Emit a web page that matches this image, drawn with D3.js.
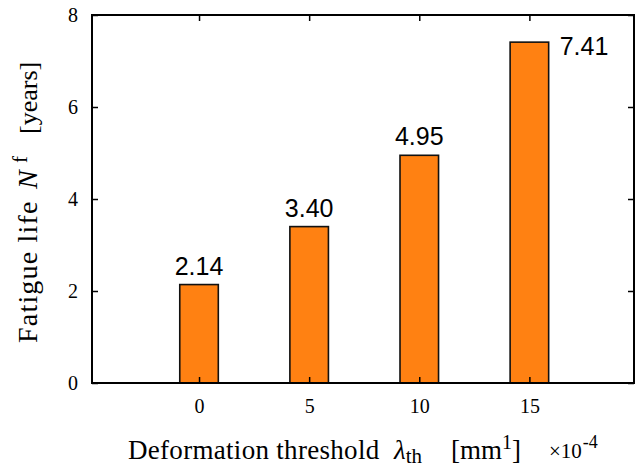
<!DOCTYPE html>
<html>
<head>
<meta charset="utf-8">
<script src="https://cdn.jsdelivr.net/npm/d3@7"></script>
<style>
  html, body { margin: 0; padding: 0; background: #fff; }
  svg { display: block; }
</style>
</head>
<body>
<svg id="chart" width="635" height="468"></svg>
<script>
// Deformation thresholds (x 10^-4 mm^-1) and resulting fatigue life (years)
const thresholds = [0, 5, 10, 15];
const fatigueLife = [2.14, 3.40, 4.95, 7.41];
const valueLabels = ["2.14", "3.40", "4.95", "7.41"];
const xTicks = [0, 5, 10, 15];
const yTicks = [0, 2, 4, 6, 8];

const plot = { left: 92, right: 634, top: 15, bottom: 383 };
const svg = d3.select("#chart");

const x = d3.scaleLinear().domain([-4.86, 19.75]).range([plot.left, plot.right]);
const y = d3.scaleLinear().domain([0, 8]).range([plot.bottom, plot.top]);
const barW = 1.75; // in x units

const serif = "'Liberation Serif', 'Times New Roman', serif";
const sans = "'Liberation Sans', Arial, sans-serif";

// Bars
svg.append("g").selectAll("rect")
  .data(thresholds)
  .join("rect")
  .attr("x", (d) => x(d - barW / 2))
  .attr("width", (d) => x(d + barW / 2) - x(d - barW / 2))
  .attr("y", (d, i) => y(fatigueLife[i]))
  .attr("height", (d, i) => y(0) - y(fatigueLife[i]))
  .attr("fill", "#ff8112")
  .attr("stroke", "#111")
  .attr("stroke-width", 1.6);

// Value labels: above each bar, the tallest one beside it to stay clear of the frame
const last = thresholds.length - 1;
svg.append("g").selectAll("text")
  .data(thresholds)
  .join("text")
  .attr("x", (d, i) => i === last ? x(d + barW / 2) + 11 : x(d))
  .attr("y", (d, i) => i === last ? y(fatigueLife[i]) + 13 : y(fatigueLife[i]) - 10)
  .attr("text-anchor", (d, i) => i === last ? "start" : "middle")
  .attr("font-family", sans)
  .attr("font-size", 25)
  .attr("fill", "#000")
  .text((d, i) => valueLabels[i]);

// Axes with inward ticks on all four sides
const tickLen = 6;
const axisBottom = d3.axisBottom(x).tickValues(xTicks).tickSize(-tickLen).tickPadding(16).tickFormat(d3.format("d"));
const axisTop = d3.axisTop(x).tickValues(xTicks).tickSize(-tickLen).tickFormat("");
const axisLeft = d3.axisLeft(y).tickValues(yTicks).tickSize(-tickLen).tickPadding(14).tickFormat(d3.format("d"));
const axisRight = d3.axisRight(y).tickValues(yTicks).tickSize(-tickLen).tickFormat("");

function styleAxis(g) {
  g.select(".domain").remove();
  g.selectAll(".tick line").attr("stroke", "#000").attr("stroke-width", 1.5);
  g.selectAll(".tick text").attr("font-family", serif).attr("font-size", 20).attr("fill", "#000");
}

svg.append("g").attr("transform", `translate(0,${plot.bottom})`).call(axisBottom).call(styleAxis);
svg.append("g").attr("transform", `translate(0,${plot.top})`).call(axisTop).call(styleAxis);
svg.append("g").attr("transform", `translate(${plot.left},0)`).call(axisLeft).call(styleAxis);
svg.append("g").attr("transform", `translate(${plot.right},0)`).call(axisRight).call(styleAxis);

// Frame
svg.append("rect")
  .attr("x", plot.left).attr("y", plot.top)
  .attr("width", plot.right - plot.left).attr("height", plot.bottom - plot.top)
  .attr("fill", "none").attr("stroke", "#000").attr("stroke-width", 2);

// X axis title
const xt = svg.append("text")
  .attr("y", 459)
  .attr("font-family", serif).attr("font-size", 27).attr("fill", "#000");
xt.append("tspan").attr("x", 128).attr("letter-spacing", 0.3).text("Deformation threshold");
xt.append("tspan").attr("x", 394).attr("font-style", "italic").text("\u03bb");
xt.append("tspan").attr("font-size", 21).attr("dy", 4).text("th");
xt.append("tspan").attr("x", 451).attr("dy", -4).text("[mm");
xt.append("tspan").attr("font-size", 20).attr("dy", -10).text("1");
xt.append("tspan").attr("dy", 10).text("]");
xt.append("tspan").attr("x", 549).attr("font-size", 21).attr("dy", -1).text("\u00d710");
xt.append("tspan").attr("font-size", 18).attr("dy", -10).attr("dx", 1).text("-4");

// Y axis title (reads bottom to top)
const yt = svg.append("text")
  .attr("transform", "translate(37,0) rotate(-90)")
  .attr("font-family", serif).attr("font-size", 28).attr("fill", "#000");
yt.append("tspan").attr("x", -343).attr("letter-spacing", 1.2).text("Fatigue life");
yt.append("tspan").attr("x", -189).attr("font-style", "italic").text("N");
yt.append("tspan").attr("x", -163).attr("font-size", 21).attr("dy", -10).text("f");
yt.append("tspan").attr("x", -134).attr("dy", 10).attr("font-size", 26).text("[years]");
</script>
</body>
</html>
